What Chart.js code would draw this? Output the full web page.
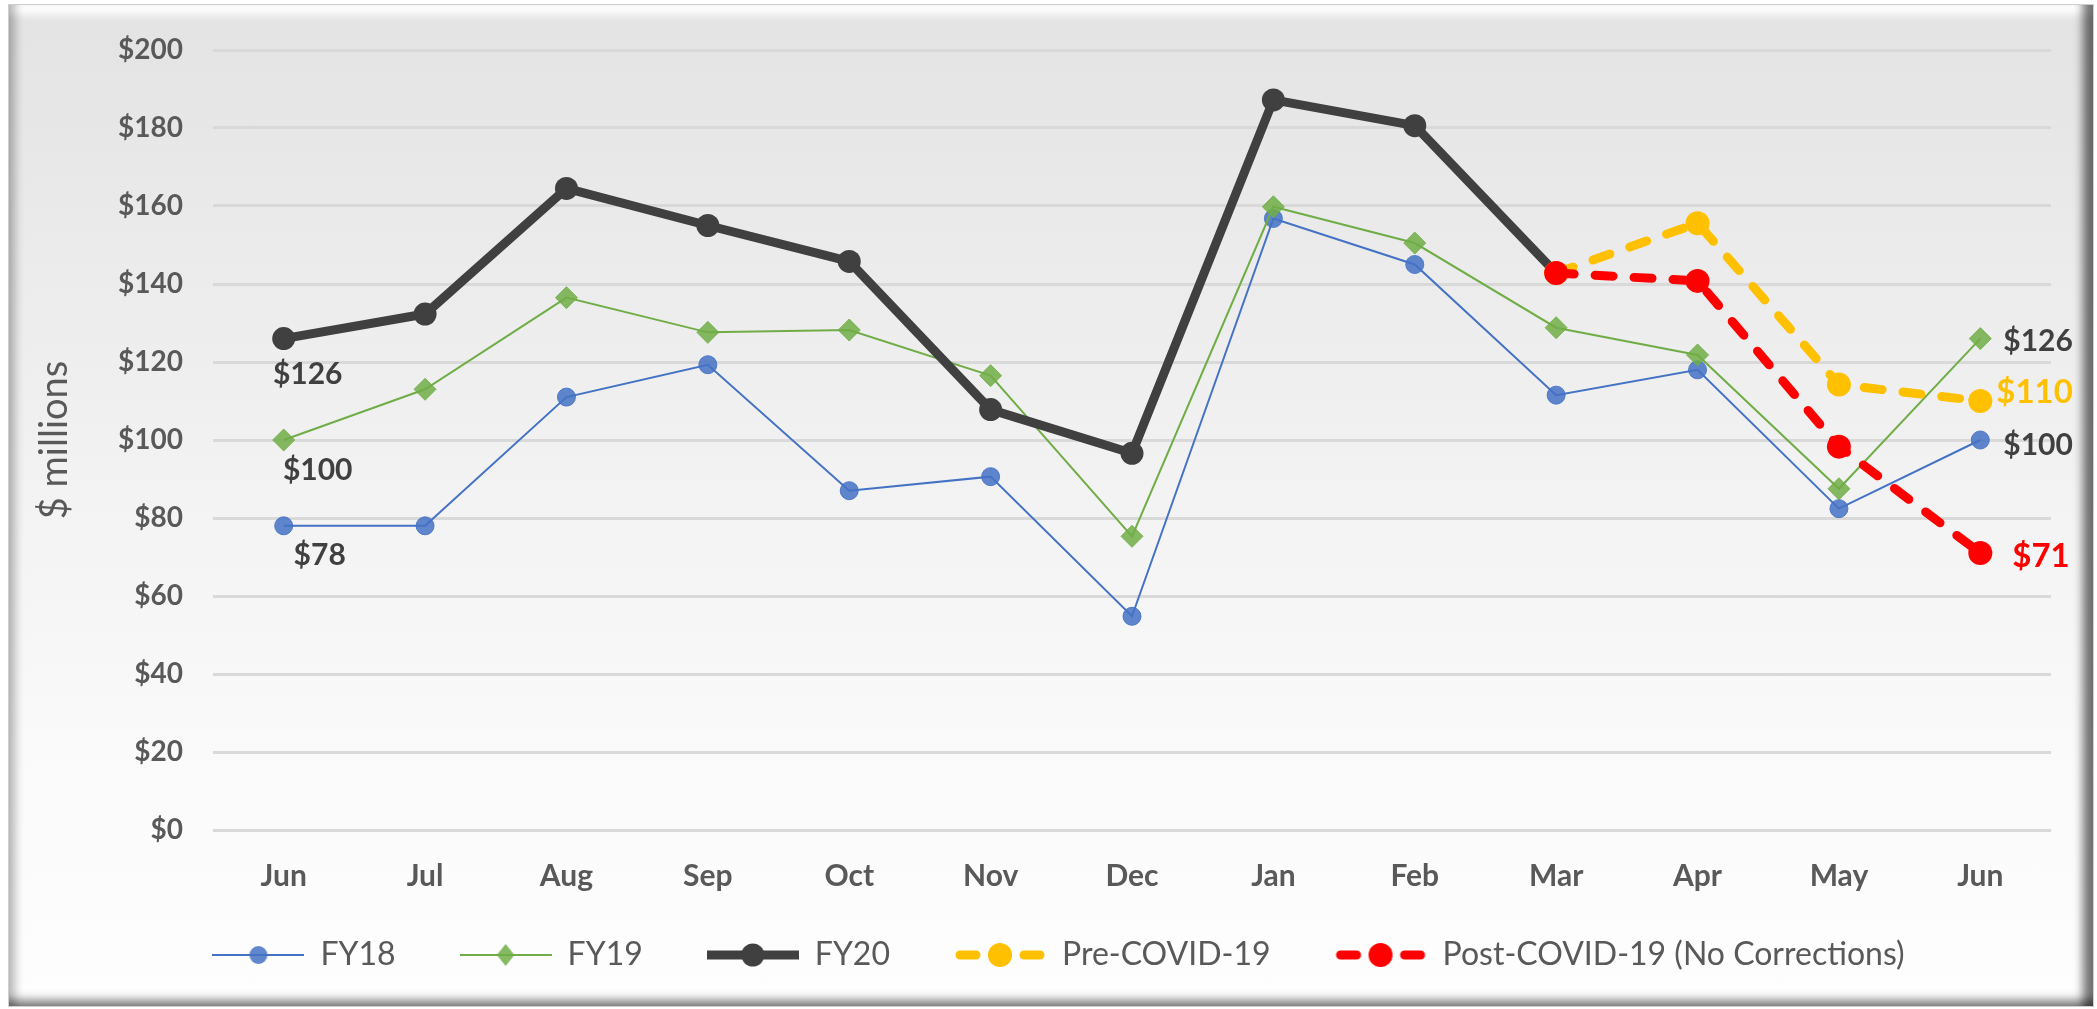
<!DOCTYPE html>
<html>
<head>
<meta charset="utf-8">
<script src="https://cdn.jsdelivr.net/npm/chart.js@4.4.1/dist/chart.umd.min.js"></script>
<style>
  html, body { margin: 0; padding: 0; background: #ffffff; }
  #wrap { position: relative; width: 2097px; height: 1009px; overflow: hidden; }
  #frame {
    position: absolute; left: 8px; top: 4px; width: 2086px; height: 1003px;
    box-sizing: border-box; border: 1px solid #cfcfcf;
    background: linear-gradient(#e3e3e3 0%, #ebebeb 25%, #f3f3f3 50%, #fafafa 75%, #fefefe 100%);
    box-shadow: inset 14px 0 10px -8px rgba(0,0,0,0.28),
                inset -18px 0 10px -8px rgba(0,0,0,0.55),
                inset 0 -14px 10px -8px rgba(0,0,0,0.5),
                inset 0 18px 8px -8px rgba(255,255,255,0.95);
  }
  #chart { position: absolute; left: 0; top: 0; }
</style>
</head>
<body>
<div id="wrap">
  <div id="frame"></div>
  <canvas id="chart" width="2097" height="1009"></canvas>
</div>
<script>
// months, June to June
const months = ['Jun', 'Jul', 'Aug', 'Sep', 'Oct', 'Nov', 'Dec', 'Jan', 'Feb', 'Mar', 'Apr', 'May', 'Jun'];

// $ millions
const fy18 = [78, 78, 111, 119.3, 87, 90.6, 54.8, 156.8, 145, 111.5, 118, 82.4, 100];
const fy19 = [100, 113, 136.5, 127.6, 128.2, 116.5, 75.3, 159.8, 150.5, 128.8, 121.8, 87.5, 126];
const fy20 = [126, 132.3, 164.5, 155, 145.8, 107.8, 96.6, 187.2, 180.6, 142.8, null, null, null];
const preCovid = [null, null, null, null, null, null, null, null, null, 142.8, 155.6, 114.2, 110];
const postCovid = [null, null, null, null, null, null, null, null, null, 142.8, 140.8, 98.3, 71];

const yTicks = [0, 20, 40, 60, 80, 100, 120, 140, 160, 180, 200];

const GREY = '#595959';
const DARK = '#404040';

// which points get a value label: [dataset, index, dx, dy, align, color, size]
const pointLabels = [
    [2, 0, 24, 36, 'center', DARK, 30],
    [1, 0, 34, 30, 'center', DARK, 30],
    [0, 0, 36, 30, 'center', DARK, 30],
    [1, 12, 23, 3, 'left', DARK, 30],
    [3, 12, 16, -9, 'left', '#FFC000', 33],
    [0, 12, 23, 5, 'left', DARK, 30],
    [4, 12, 32, 3, 'left', '#FF0000', 33]
];

const ICON_W = 92;

function legendIcon(ds) {
    var c = document.createElement('canvas');
    c.width = ICON_W;
    c.height = 32;
    var g = c.getContext('2d');
    var mid = ICON_W / 2;
    g.strokeStyle = ds.borderColor;
    g.lineWidth = ds.borderWidth;
    g.lineCap = ds.borderDash ? 'round' : 'butt';
    g.beginPath();
    if (ds.borderDash) {
        // short dash, marker, short dash
        g.moveTo(6, 16); g.lineTo(22, 16);
        g.moveTo(ICON_W - 22, 16); g.lineTo(ICON_W - 6, 16);
    } else {
        g.moveTo(0, 16); g.lineTo(ICON_W, 16);
    }
    g.stroke();
    g.fillStyle = ds.pointBackgroundColor;
    var r = ds.pointRadius;
    g.beginPath();
    if (ds.pointStyle === 'rectRot') {
        g.moveTo(mid, 16 - r); g.lineTo(mid + r * 0.8, 16);
        g.lineTo(mid, 16 + r); g.lineTo(mid - r * 0.8, 16);
        g.closePath();
    } else {
        g.arc(mid, 16, r, 0, Math.PI * 2);
    }
    g.fill();
    return c;
}

const valueLabels = {
    id: 'valueLabels',
    afterDatasetsDraw(chart) {
        var ctx = chart.ctx;
        ctx.save();
        ctx.textBaseline = 'middle';
        pointLabels.forEach(function (p) {
            var ds = chart.data.datasets[p[0]];
            var pt = chart.getDatasetMeta(p[0]).data[p[1]];
            var v = ds.data[p[1]];
            ctx.font = 'bold ' + p[6] + 'px Lato';
            ctx.fillStyle = p[5];
            ctx.textAlign = p[4];
            ctx.fillText('$' + Math.round(v), pt.x + p[2], pt.y + p[3]);
        });
        ctx.restore();
    }
};

// nudge the legend row to where it sits in the original
const legendShift = {
    id: 'legendShift',
    afterLayout(chart) {
        var l = chart.legend;
        l.left += 24; l.right += 24;
        l.top -= 25; l.bottom -= 25;
    }
};

function draw_chart() {
    var datasets = [{
        label: 'FY18',
        data: fy18,
        borderColor: '#4472C4',
        borderWidth: 2,
        pointStyle: 'circle',
        pointRadius: 9,
        pointBackgroundColor: 'rgba(68,114,196,0.85)',
        pointBorderColor: 'rgba(68,114,196,0.9)',
        pointBorderWidth: 1,
        order: 4
    }, {
        label: 'FY19',
        data: fy19,
        borderColor: '#70AD47',
        borderWidth: 2,
        pointStyle: 'rectRot',
        pointRadius: 11,
        pointBackgroundColor: 'rgba(112,173,71,0.85)',
        pointBorderColor: 'rgba(112,173,71,0.85)',
        pointBorderWidth: 1,
        order: 3
    }, {
        label: 'FY20',
        data: fy20,
        borderColor: DARK,
        borderWidth: 9,
        borderJoinStyle: 'round',
        pointStyle: 'circle',
        pointRadius: 11.5,
        pointBackgroundColor: DARK,
        pointBorderColor: DARK,
        pointBorderWidth: 0,
        order: 2
    }, {
        label: 'Pre-COVID-19',
        data: preCovid,
        borderColor: '#FFC000',
        borderWidth: 9,
        borderDash: [18, 21],
        borderCapStyle: 'round',
        borderJoinStyle: 'round',
        pointStyle: 'circle',
        pointRadius: 12,
        pointBackgroundColor: '#FFC000',
        pointBorderColor: '#FFC000',
        pointBorderWidth: 0,
        order: 1
    }, {
        label: 'Post-COVID-19 (No Corrections)',
        data: postCovid,
        borderColor: '#FF0000',
        borderWidth: 9,
        borderDash: [18, 21],
        borderCapStyle: 'round',
        borderJoinStyle: 'round',
        pointStyle: 'circle',
        pointRadius: 12,
        pointBackgroundColor: '#FF0000',
        pointBorderColor: '#FF0000',
        pointBorderWidth: 0,
        order: 0
    }];

    var icons = datasets.map(legendIcon);

    new Chart(document.getElementById('chart'), {
        type: 'line',
        data: { labels: months, datasets: datasets },
        options: {
            responsive: false,
            animation: false,
            devicePixelRatio: 1,
            layout: { padding: { left: 18, right: 46, top: 50, bottom: 3 } },
            elements: { line: { tension: 0 } },
            scales: {
                x: {
                    offset: true,
                    grid: { display: false, drawTicks: false },
                    border: { display: false },
                    ticks: {
                        color: GREY,
                        padding: 28,
                        font: { family: 'Lato', weight: 'bold', size: 30 }
                    },
                    afterFit: function (s) { s.height = 70; }
                },
                y: {
                    min: 0,
                    max: 200,
                    afterBuildTicks: function (s) { s.ticks = yTicks.map(v => ({ value: v })); },
                    grid: { color: '#d9d9d9', lineWidth: 3, drawTicks: false },
                    border: { display: false },
                    ticks: {
                        color: GREY,
                        padding: 30,
                        font: { family: 'Lato', weight: 'bold', size: 28 },
                        callback: v => '$' + v
                    },
                    title: {
                        display: true,
                        text: '$ millions',
                        color: GREY,
                        padding: { top: 14, bottom: 0 },
                        font: { family: 'Lato', size: 38 }
                    },
                    afterFit: function (s) { s.width = 195; }
                }
            },
            plugins: {
                tooltip: { enabled: false },
                legend: {
                    position: 'bottom',
                    labels: {
                        usePointStyle: true,
                        pointStyleWidth: ICON_W,
                        padding: 64,
                        color: GREY,
                        font: { family: 'Lato', size: 32 },
                        generateLabels: function (chart) {
                            return chart.data.datasets.map(function (ds, i) {
                                return {
                                    text: ds.label,
                                    pointStyle: icons[i],
                                    datasetIndex: i,
                                    hidden: false,
                                    fontColor: GREY,
                                    lineWidth: 0
                                };
                            });
                        }
                    }
                }
            }
        },
        plugins: [valueLabels, legendShift]
    });
}

document.fonts.load('bold 26px Lato').then(function () {
    return document.fonts.load('28px Lato');
}).then(draw_chart, draw_chart);
</script>
</body>
</html>
